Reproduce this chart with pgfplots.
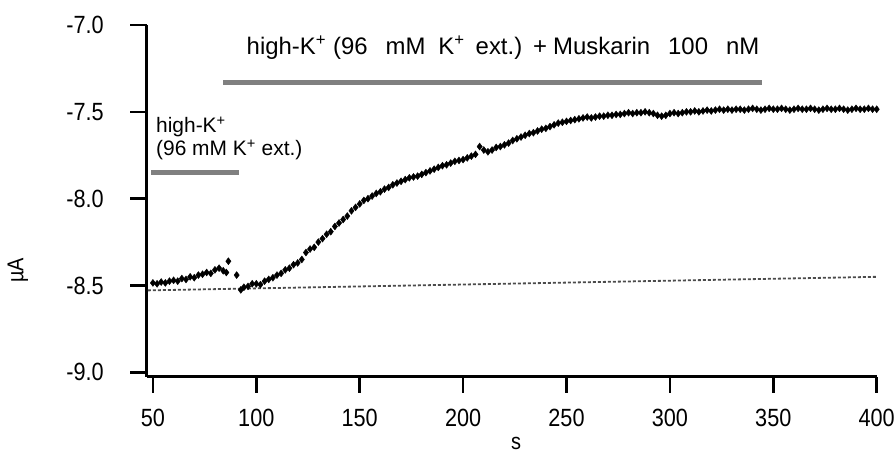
\documentclass[border=0pt]{standalone}
\usepackage{pgfplots}
\pgfplotsset{compat=1.18}
\usepackage{fontspec}
\setmainfont{Liberation Sans}
\newfontfamily\narrowfont[FakeStretch=0.87]{Liberation Sans}

% current trace, one value about every 2 s
\pgfplotstableread{
s     I
50   -8.485
52   -8.490
54   -8.480
56   -8.485
58   -8.475
60   -8.470
62   -8.475
64   -8.460
66   -8.465
68   -8.450
70   -8.455
72   -8.440
74   -8.435
76   -8.425
78   -8.430
80   -8.410
82   -8.400
84   -8.415
85.5 -8.425
86.5 -8.360
90.5 -8.440
92.5 -8.525
94   -8.510
96   -8.505
98   -8.490
100  -8.490
102  -8.495
104  -8.475
106  -8.465
108  -8.455
110  -8.440
112  -8.430
114  -8.410
116  -8.400
118  -8.380
120  -8.370
122  -8.350
124  -8.310
126  -8.290
128  -8.280
130  -8.250
132  -8.230
134  -8.205
136  -8.190
138  -8.160
140  -8.140
142  -8.120
144  -8.100
146  -8.070
148  -8.050
150  -8.030
152  -8.010
154  -8.000
156  -7.985
158  -7.970
160  -7.960
162  -7.945
164  -7.935
166  -7.920
168  -7.910
170  -7.900
172  -7.890
174  -7.880
176  -7.875
178  -7.870
180  -7.860
182  -7.850
184  -7.840
186  -7.830
188  -7.820
190  -7.810
192  -7.805
194  -7.795
196  -7.785
198  -7.780
200  -7.775
202  -7.765
204  -7.755
206  -7.745
208  -7.700
210  -7.720
212  -7.730
214  -7.720
216  -7.705
218  -7.700
220  -7.690
222  -7.680
224  -7.665
226  -7.655
228  -7.645
230  -7.635
232  -7.625
234  -7.620
236  -7.610
238  -7.600
240  -7.595
242  -7.585
244  -7.575
246  -7.565
248  -7.560
250  -7.555
252  -7.550
254  -7.545
256  -7.540
258  -7.535
260  -7.530
262  -7.535
264  -7.530
266  -7.525
268  -7.525
270  -7.520
272  -7.520
274  -7.515
276  -7.515
278  -7.510
280  -7.505
282  -7.510
284  -7.505
286  -7.505
288  -7.500
290  -7.505
292  -7.510
294  -7.520
296  -7.525
298  -7.520
300  -7.510
302  -7.505
304  -7.510
306  -7.505
308  -7.500
310  -7.500
312  -7.495
314  -7.500
316  -7.495
318  -7.490
320  -7.495
322  -7.490
324  -7.485
326  -7.490
328  -7.485
330  -7.490
332  -7.485
334  -7.485
336  -7.490
338  -7.485
340  -7.480
342  -7.485
344  -7.490
346  -7.485
348  -7.480
350  -7.485
352  -7.485
354  -7.480
356  -7.485
358  -7.490
360  -7.485
362  -7.480
364  -7.485
366  -7.485
368  -7.480
370  -7.485
372  -7.490
374  -7.485
376  -7.480
378  -7.485
380  -7.485
382  -7.480
384  -7.485
386  -7.490
388  -7.485
390  -7.480
392  -7.485
394  -7.485
396  -7.480
398  -7.485
400  -7.485
}\trace

\begin{document}
\begin{tikzpicture}
\useasboundingbox (0,0) rectangle (894bp,459bp);
\begin{axis}[
    at={(146.5bp,82.3bp)}, anchor=south west,
    scale only axis,
    width=730.2bp, height=351.7bp,
    xmin=46.9, xmax=400,
    ymin=-9.025, ymax=-7.0,
    axis lines*=left,
    axis line style={-, line width=2.5bp},
    tick pos=left,
    tick align=outside,
    major tick length=16bp,
    major tick style={line width=2.5bp, black},
    xtick={50,100,...,400},
    ytick={-9,-8.5,-8,-7.5,-7},
    /pgf/number format/assume math mode=true,
    ticklabel style={font=\narrowfont\fontsize{25}{29}\selectfont, inner sep=0pt},
    yticklabel style={xshift=-26.5bp,
        /pgf/number format/fixed,
        /pgf/number format/fixed zerofill,
        /pgf/number format/precision=1},
    xticklabel style={yshift=-16bp},
    xlabel={s},
    ylabel={µA},
    label style={font=\narrowfont\fontsize{23}{27}\selectfont},
    xlabel style={at={(axis description cs:0.506,-0.19)}, anchor=center},
    ylabel style={at={(axis description cs:-0.176,0.303)}, anchor=center},
    clip=false,
]
\addplot [black!70, line width=1.8bp, dash pattern=on 3bp off 2bp]
    coordinates {(47.6,-8.528) (400,-8.450)};
\addplot [only marks, mark=diamond*, mark size=3.5bp, black] table [x=s, y=I] {\trace};
\addplot [gray, line width=5bp] coordinates {(83.9,-7.332) (344.5,-7.332)};
\addplot [gray, line width=5bp] coordinates {(49.1,-7.848) (91.6,-7.848)};
\node [font=\fontsize{24}{28}\selectfont] at (axis cs:219.3,-7.132)
    {high-K\textsuperscript{+}\hspace{7bp}(96\hspace{18bp}mM\hspace{13bp}K\textsuperscript{+}\hspace{11bp}ext.)\hspace{11bp}+\hspace{6bp}Muskarin\hspace{18bp}100\hspace{18bp}nM};
\node [font=\fontsize{21}{25}\selectfont, anchor=west, inner sep=0pt] at (axis cs:51.5,-7.587)
    {high-K\textsuperscript{+}};
\node [font=\fontsize{21}{25}\selectfont, anchor=west, inner sep=0pt] at (axis cs:51.5,-7.720)
    {(96 mM K\textsuperscript{+} ext.)};
\end{axis}
\end{tikzpicture}
\end{document}
